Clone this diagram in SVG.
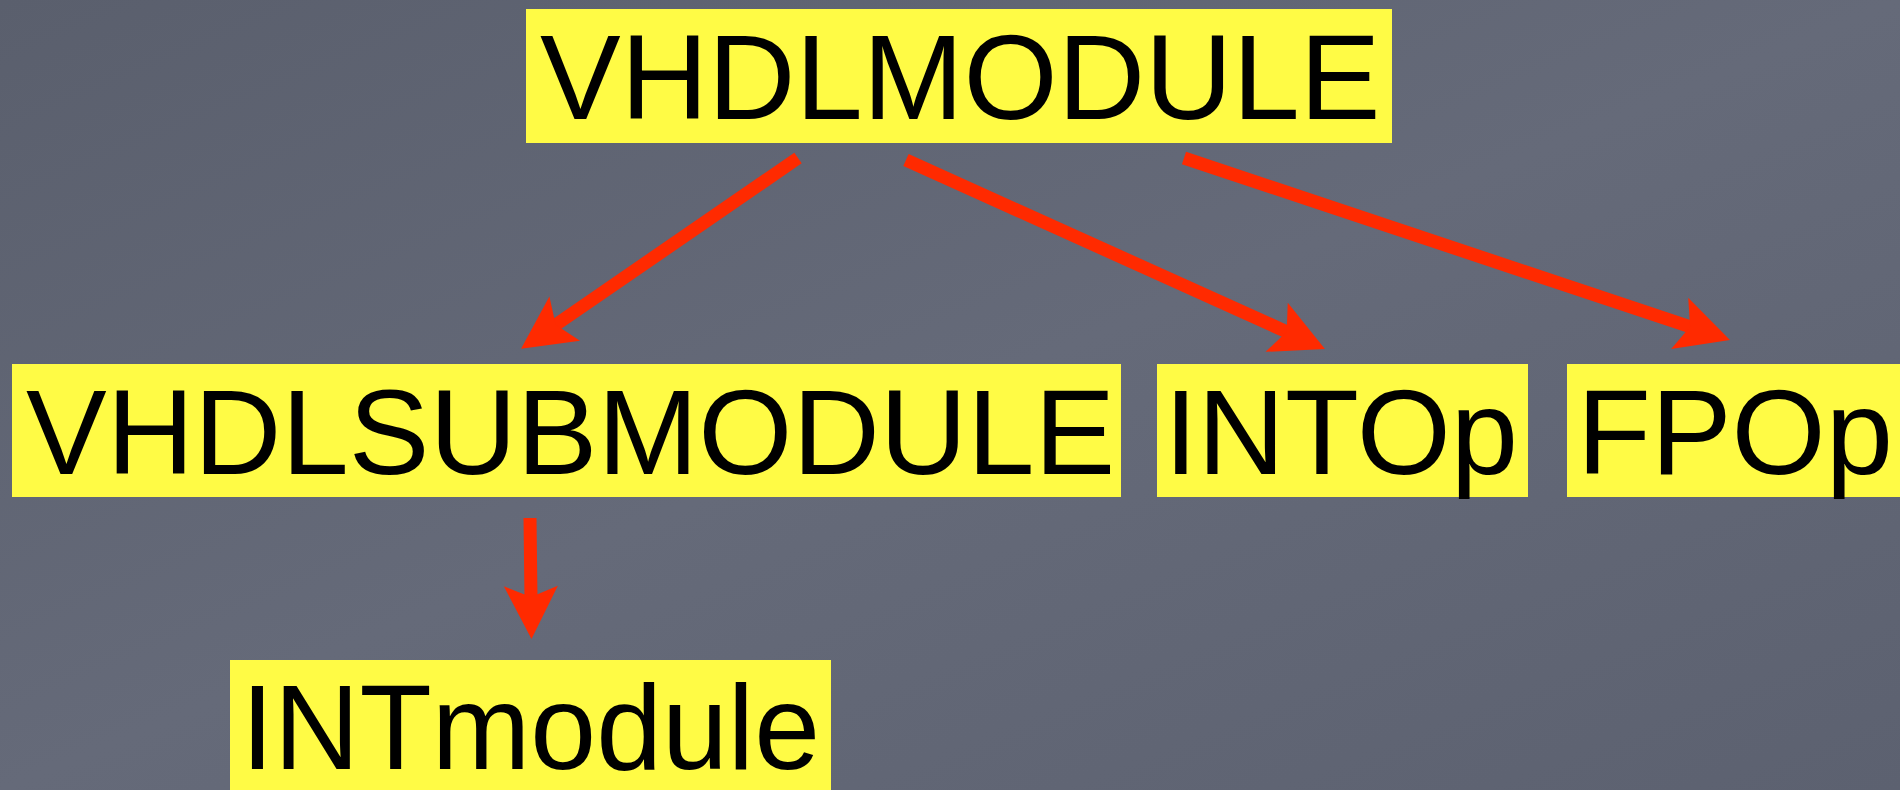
<svg xmlns="http://www.w3.org/2000/svg" width="1900" height="790" viewBox="0 0 1900 790">
<style>
.box{fill:#fffb45}
.lbl{font-family:"Liberation Sans",Arial,sans-serif;font-size:121px;fill:#000}
.arrow{stroke:#ff2a00;stroke-width:13;fill:none;marker-end:url(#head)}
</style>
<defs>
<linearGradient id="bg" x1="0" y1="0" x2="1" y2="1">
<stop offset="0" stop-color="#5a5f6d"/>
<stop offset="0.5" stop-color="#656a79"/>
<stop offset="1" stop-color="#5c6170"/>
</linearGradient>
<marker id="head" markerUnits="userSpaceOnUse" viewBox="-20 -30 70 60" refX="0" refY="0" markerWidth="70" markerHeight="60" orient="auto">
<path d="M40,0 L-13,-27 L-2,0 L-13,27 Z" fill="#ff2a00"/>
</marker>
</defs>
<rect width="1900" height="790" fill="url(#bg)"/>
<g id="connectors">
<line class="arrow" x1="798" y1="158" x2="554" y2="326"/>
<line class="arrow" x1="906" y1="160" x2="1288.5" y2="332.6"/>
<line class="arrow" x1="1184" y1="158" x2="1692" y2="327.4"/>
<line class="arrow" x1="530" y1="518" x2="531" y2="599"/>
</g>
<g id="vhdlmodule">
<rect class="box" x="526" y="9" width="866" height="134"/>
<text class="lbl" x="540" y="119">VHDLMODULE</text>
</g>
<g id="vhdlsubmodule">
<rect class="box" x="12" y="364" width="1109" height="133"/>
<text class="lbl" x="26" y="474">VHDLSUBMODULE</text>
</g>
<g id="intop">
<rect class="box" x="1157" y="364" width="371" height="133"/>
<text class="lbl" x="1164" y="474">INTOp</text>
</g>
<g id="fpop">
<rect class="box" x="1567" y="364" width="333" height="133"/>
<text class="lbl" x="1577" y="474">FPOp</text>
</g>
<g id="intmodule">
<rect class="box" x="230" y="660" width="601" height="130"/>
<text class="lbl" x="241" y="769" textLength="579" lengthAdjust="spacingAndGlyphs">INTmodule</text>
</g>
</svg>
